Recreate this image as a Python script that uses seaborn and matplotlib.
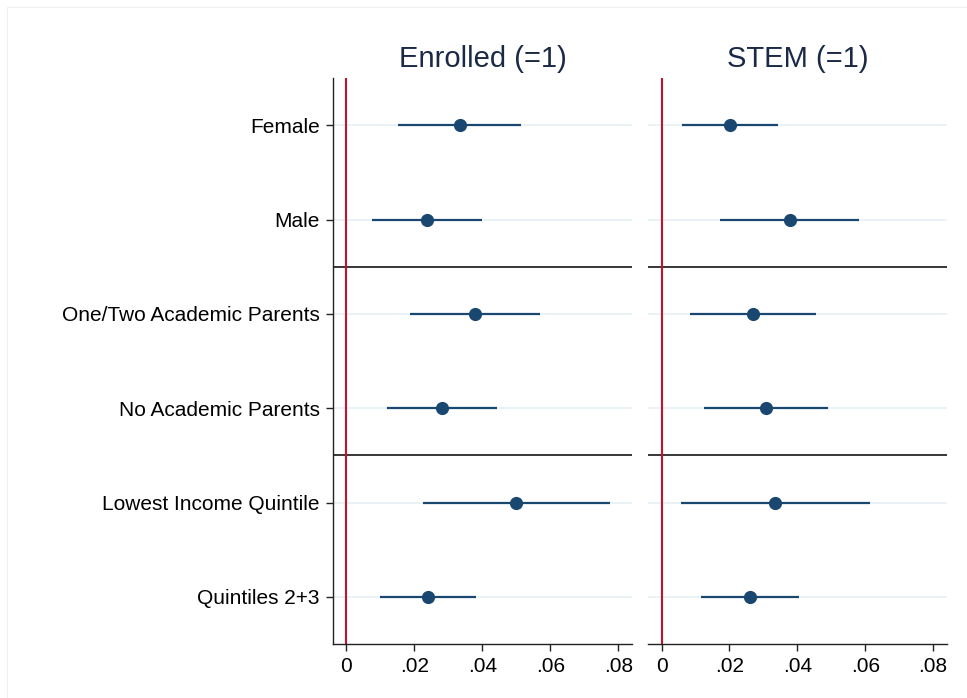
import matplotlib
matplotlib.use("Agg")
import matplotlib.pyplot as plt
import seaborn as sns
import pandas as pd
from matplotlib.patches import Rectangle

# Subgroups, top to bottom
groups = [
    "Female",
    "Male",
    "One/Two Academic Parents",
    "No Academic Parents",
    "Lowest Income Quintile",
    "Quintiles 2+3",
]

# Enrolled (=1): point estimates and 95% confidence bounds
enrolled_est = [0.0333, 0.0236, 0.0377, 0.0282, 0.0500, 0.0240]
enrolled_lo = [0.0153, 0.0076, 0.0186, 0.0121, 0.0226, 0.0100]
enrolled_hi = [0.0514, 0.0398, 0.0569, 0.0444, 0.0774, 0.0381]

# STEM (=1): point estimates and 95% confidence bounds
stem_est = [0.0202, 0.0377, 0.0269, 0.0308, 0.0333, 0.0261]
stem_lo = [0.0061, 0.0171, 0.0084, 0.0126, 0.0056, 0.0117]
stem_hi = [0.0343, 0.0583, 0.0454, 0.0490, 0.0613, 0.0405]

x_ticks = [0, 0.02, 0.04, 0.06, 0.08]
x_ticklabels = ["0", ".02", ".04", ".06", ".08"]

panel_titles = ["Enrolled (=1)", "STEM (=1)"]

sns.set_theme(style="white")
plt.rcParams["font.family"] = ["Liberation Sans", "DejaVu Sans"]

NAVY = "#1a476f"
RED = "#c8102e"
GRID = "#e8f0f3"
TITLE_COLOR = "#1a2946"

fig = plt.figure(figsize=(9.67, 6.98), dpi=100)

# faint outer frame of the graph region
fig.patches.append(Rectangle((7 / 967, -0.1), 1.2, 1 - 7 / 698 + 0.1,
                             transform=fig.transFigure, fill=False,
                             edgecolor="#efefef", linewidth=0.8, zorder=0))

ax_bottom = 1 - 644 / 698
ax_height = 566 / 698
ax_left = fig.add_axes([333 / 967, ax_bottom, 299 / 967, ax_height])
ax_right = fig.add_axes([648.3 / 967, ax_bottom, 298.4 / 967, ax_height])

frames = []
for est, lo, hi in [(enrolled_est, enrolled_lo, enrolled_hi),
                    (stem_est, stem_lo, stem_hi)]:
    frames.append(pd.DataFrame({
        "group": groups,
        "row": list(range(1, len(groups) + 1)),
        "est": est,
        "lo": lo,
        "hi": hi,
    }))

for i, (ax, df, title) in enumerate(zip([ax_left, ax_right], frames, panel_titles)):
    ax.set_xlim(-0.0039, 0.084)
    ax.set_ylim(6.5, 0.5)

    # light row guides
    for r in df["row"]:
        ax.axhline(r, color=GRID, linewidth=1.2, zorder=0)

    # group separators
    for s in [2.5, 4.5]:
        ax.axhline(s, color="black", linewidth=1.1, zorder=1)

    # zero reference line
    ax.axvline(0, color=RED, linewidth=1.5, zorder=2)

    # confidence intervals
    ax.hlines(df["row"], df["lo"], df["hi"], color=NAVY, linewidth=1.6, zorder=3)

    # point estimates
    sns.scatterplot(data=df, x="est", y="row", ax=ax, color=NAVY, s=90,
                    edgecolor=NAVY, linewidth=0, zorder=4, legend=False)

    ax.set_xlabel("")
    ax.set_ylabel("")
    ax.set_title(title, fontsize=21, color=TITLE_COLOR, pad=8)

    ax.set_xticks(x_ticks)
    ax.set_xticklabels(x_ticklabels, fontsize=15)
    ax.tick_params(axis="x", bottom=True, length=5, width=1, color="#222222",
                   pad=4, labelcolor="black")

    for side in ["top", "right"]:
        ax.spines[side].set_visible(False)
    ax.spines["bottom"].set_color("#222222")
    ax.spines["bottom"].set_linewidth(1)

    if i == 0:
        ax.set_yticks(df["row"])
        ax.set_yticklabels(df["group"], fontsize=15)
        ax.tick_params(axis="y", left=True, length=5, width=1, color="#222222",
                       pad=4.5, labelcolor="black")
        ax.spines["left"].set_color("#222222")
        ax.spines["left"].set_linewidth(1)
    else:
        ax.set_yticks([])
        ax.spines["left"].set_visible(False)

fig.savefig("out.png", dpi=100, facecolor="white")
